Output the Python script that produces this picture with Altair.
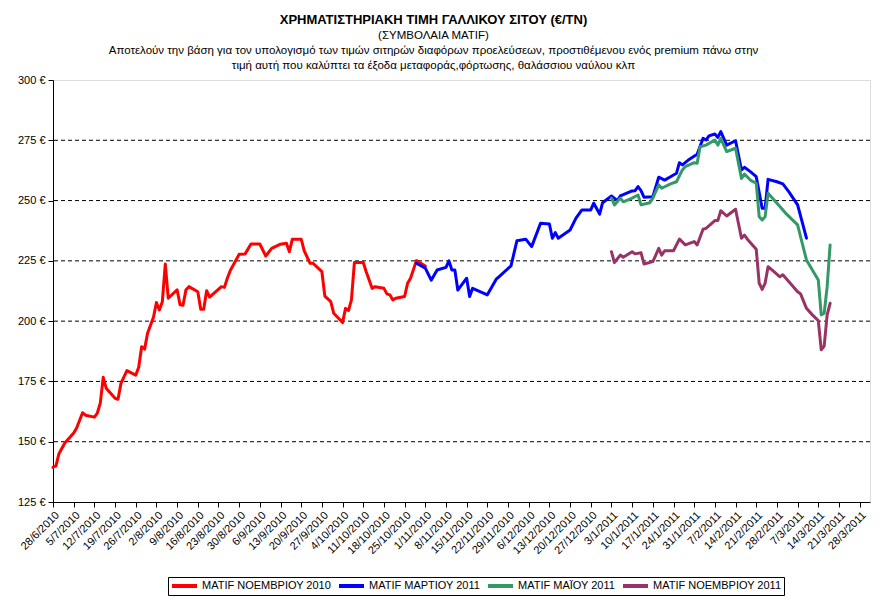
import altair as alt
import pandas as pd

FONT = "Liberation Sans"

series_names = ["MATIF ΝΟΕΜΒΡΙΟΥ 2010", "MATIF ΜΑΡΤΙΟΥ 2011", "MATIF ΜΑΪΟΥ 2011", "MATIF ΝΟΕΜΒΡΙΟΥ 2011"]
series_colors = ["#FF0000", "#0000FF", "#339966", "#993366"]

red_dates = ["2010-06-28", "2010-06-29", "2010-06-30", "2010-07-02", "2010-07-05", "2010-07-06", "2010-07-08",
             "2010-07-09", "2010-07-12", "2010-07-13", "2010-07-14", "2010-07-15", "2010-07-16", "2010-07-19",
             "2010-07-20", "2010-07-21", "2010-07-23", "2010-07-26", "2010-07-27", "2010-07-28", "2010-07-29",
             "2010-07-30", "2010-08-01", "2010-08-02", "2010-08-03", "2010-08-04", "2010-08-05", "2010-08-06",
             "2010-08-09", "2010-08-10", "2010-08-11", "2010-08-12", "2010-08-13", "2010-08-16", "2010-08-17",
             "2010-08-18", "2010-08-19", "2010-08-20", "2010-08-24", "2010-08-25", "2010-08-26", "2010-08-27",
             "2010-08-30", "2010-09-01", "2010-09-03", "2010-09-06", "2010-09-08", "2010-09-10", "2010-09-13",
             "2010-09-15", "2010-09-16", "2010-09-17", "2010-09-20", "2010-09-21", "2010-09-23", "2010-09-24",
             "2010-09-27", "2010-09-28", "2010-09-30", "2010-10-01", "2010-10-04", "2010-10-05", "2010-10-06",
             "2010-10-07", "2010-10-08", "2010-10-11", "2010-10-12", "2010-10-14", "2010-10-15", "2010-10-18",
             "2010-10-19", "2010-10-20", "2010-10-21", "2010-10-22", "2010-10-25", "2010-10-26", "2010-10-27",
             "2010-10-29", "2010-11-01"]
red_values = [139.4, 140, 145, 149.5, 153.6, 155.7, 162,
              161, 160.2, 161.9, 166, 176.7, 172.2, 168,
              167.6, 174.2, 179.5, 177.6, 180.9, 189.4, 188.4,
              195, 201.6, 207.7, 204.6, 208, 223.7, 209.5,
              213, 206.8, 206.6, 213, 214.3, 212.2, 204.9,
              204.9, 212.6, 210, 214.3, 214, 217.8, 221,
              227.7, 227.8, 232, 232, 227, 230.2, 231.9,
              232.3, 228.8, 234, 234, 229.2, 224, 224,
              220.5, 210.4, 208.1, 203.3, 199.4, 205.3, 204.4,
              208.8, 224.3, 224.3, 220.5, 213.6, 214.3, 213.6,
              211.3, 210.9, 208.8, 209.5, 210.2, 215.7, 217.8,
              225.1, 222.9]

blue_dates = ["2010-10-29", "2010-11-01", "2010-11-03", "2010-11-05", "2010-11-08", "2010-11-09", "2010-11-10",
              "2010-11-11", "2010-11-12", "2010-11-15", "2010-11-16", "2010-11-17", "2010-11-22", "2010-11-25",
              "2010-11-26", "2010-11-30", "2010-12-02", "2010-12-05", "2010-12-07", "2010-12-10", "2010-12-13",
              "2010-12-14", "2010-12-15", "2010-12-16", "2010-12-20", "2010-12-22", "2010-12-24", "2010-12-27",
              "2010-12-28", "2010-12-30", "2010-12-31", "2011-01-03", "2011-01-05", "2011-01-06", "2011-01-10",
              "2011-01-11", "2011-01-12", "2011-01-13", "2011-01-14", "2011-01-17", "2011-01-19", "2011-01-21",
              "2011-01-23", "2011-01-25", "2011-01-26", "2011-01-27", "2011-01-29", "2011-02-01", "2011-02-03",
              "2011-02-04", "2011-02-05", "2011-02-07", "2011-02-08", "2011-02-09", "2011-02-11", "2011-02-14",
              "2011-02-16", "2011-02-17", "2011-02-19", "2011-02-21", "2011-02-23", "2011-02-24", "2011-02-25",
              "2011-02-28", "2011-03-02", "2011-03-04", "2011-03-07", "2011-03-10"]
blue_values = [224, 222, 217, 221.2, 222.3, 225, 221.2,
               221.2, 212.9, 217.8, 210.2, 213.6, 210.9, 217.4,
               218.5, 222.9, 233.3, 234, 230.9, 240.6, 240.3,
               234.4, 236.7, 234.4, 237.8, 242.7, 246.1, 246.1,
               248.9, 244.4, 249.1, 251.9, 250, 251.9, 254,
               254.1, 255.8, 254.1, 251.4, 251.6, 259.7, 258.5,
               259.9, 261.3, 265.7, 264.8, 266.8, 269.2, 275.8,
               275.1, 276.8, 277.6, 276.2, 278.6, 273, 274.8,
               262.7, 263.8, 262, 259.9, 246.8, 246.8, 258.8,
               257.8, 256.9, 253.7, 248.2, 234.4]

green_dates = ["2011-01-03", "2011-01-04", "2011-01-06", "2011-01-07", "2011-01-10", "2011-01-12", "2011-01-13",
               "2011-01-16", "2011-01-17", "2011-01-19", "2011-01-20", "2011-01-23", "2011-01-25", "2011-01-27",
               "2011-01-28", "2011-01-31", "2011-02-01", "2011-02-02", "2011-02-04", "2011-02-07", "2011-02-08",
               "2011-02-09", "2011-02-11", "2011-02-14", "2011-02-16", "2011-02-17", "2011-02-19", "2011-02-21",
               "2011-02-22", "2011-02-23", "2011-02-24", "2011-02-25", "2011-03-01", "2011-03-03", "2011-03-07",
               "2011-03-08", "2011-03-10", "2011-03-14", "2011-03-15", "2011-03-16", "2011-03-17", "2011-03-18"]
green_values = [251, 248.2, 251, 249.5, 251, 252.3, 248.2,
                249.1, 251, 256.5, 255.1, 256.9, 257.8, 262.7,
                264.1, 265.7, 265.5, 272.3, 273, 275.1, 273,
                275.8, 270.3, 271.7, 259.2, 261, 258.5, 257.2,
                243.3, 242, 243.3, 253, 247.5, 244.7, 239.9,
                235, 225.4, 217.1, 202.6, 203.3, 214.3, 231.6]

purple_dates = ["2011-01-03", "2011-01-04", "2011-01-06", "2011-01-07", "2011-01-10", "2011-01-11", "2011-01-13",
                "2011-01-14", "2011-01-17", "2011-01-18", "2011-01-19", "2011-01-20", "2011-01-21", "2011-01-24",
                "2011-01-26", "2011-01-28", "2011-01-31", "2011-02-01", "2011-02-03", "2011-02-04", "2011-02-07",
                "2011-02-08", "2011-02-09", "2011-02-11", "2011-02-14", "2011-02-16", "2011-02-17", "2011-02-18",
                "2011-02-21", "2011-02-22", "2011-02-23", "2011-02-24", "2011-02-25", "2011-02-27", "2011-03-01",
                "2011-03-02", "2011-03-04", "2011-03-07", "2011-03-08", "2011-03-10", "2011-03-12", "2011-03-14",
                "2011-03-15", "2011-03-16", "2011-03-17", "2011-03-18"]
purple_values = [228.8, 224.3, 227.4, 226.5, 228.8, 227.9, 228.4,
                 223.7, 224.7, 227.4, 230.2, 227.4, 229.2, 229.2,
                 234, 231.6, 233, 231.6, 238.1, 238.5, 241.7,
                 241.7, 245.8, 243.6, 246.4, 234.4, 235.7, 234,
                 229.8, 215.7, 213.2, 215.7, 222.6, 220.5, 218.4,
                 219.2, 216.4, 212.2, 211.3, 205.3, 202.6, 200.2,
                 188.1, 189.7, 202.6, 207.4]

y_ticks = [125, 150, 175, 200, 225, 250, 275, 300]
grid_values = [150, 175, 200, 225, 250, 275]
tick_dates = [d.strftime("%Y-%m-%d") for d in pd.date_range("2010-06-28", "2011-03-28", freq="7D")]

title_line = "ΧΡΗΜΑΤΙΣΤΗΡΙΑΚΗ ΤΙΜΗ ΓΑΛΛΙΚΟΥ ΣΙΤΟΥ (€/ΤΝ)"
subtitle_lines = ["(ΣΥΜΒΟΛΑΙΑ MATIF)",
                  "Αποτελούν την βάση για τον υπολογισμό των τιμών σιτηρών διαφόρων προελεύσεων, προστιθέμενου ενός premium πάνω στην",
                  "τιμή αυτή που καλύπτει τα έξοδα μεταφοράς,φόρτωσης, θαλάσσιου ναύλου κλπ"]

frames = []
for name, ds, vs in [(series_names[0], red_dates, red_values), (series_names[1], blue_dates, blue_values),
                     (series_names[2], green_dates, green_values), (series_names[3], purple_dates, purple_values)]:
    frames.append(pd.DataFrame({"date": ds, "price": vs, "series": name}))
df = pd.concat(frames, ignore_index=True)
df["order"] = df["series"].map({n: i for i, n in enumerate(series_names)})


def dt(s):
    y, m, d = (int(p) for p in s.split("-"))
    return alt.DateTime(year=y, month=m, date=d, utc=True)


x_scale = alt.Scale(type="utc", domain=[dt("2010-06-28"), alt.DateTime(year=2011, month=3, date=31, hours=12, utc=True)])
y_scale = alt.Scale(domain=[125, 300], nice=False, zero=False)

grid = alt.Chart(pd.DataFrame({"g": grid_values})).mark_rule(
    color="black", strokeDash=[4, 3], strokeWidth=1
).encode(y=alt.Y("g:Q", scale=y_scale, title=None))

lines = alt.Chart(df).mark_line(strokeWidth=3, strokeJoin="round", strokeCap="round").encode(
    x=alt.X("date:T", scale=x_scale, title=None,
            axis=alt.Axis(values=[dt(s) for s in tick_dates],
                          labelExpr="utcFormat(datum.value, '%-d/%-m/%Y')",
                          labelAngle=-45, labelFontSize=11, labelColor="black", labelFont=FONT,
                          tickSize=5, tickColor="black", domainColor="black", grid=False, labelPadding=2,
                          labelOverlap=False)),
    y=alt.Y("price:Q", scale=y_scale, title=None,
            axis=alt.Axis(values=y_ticks, labelExpr="datum.value + ' €'", labelFontSize=11, labelColor="black",
                          labelFont=FONT, tickSize=5, tickColor="black", domainColor="black", grid=False,
                          labelPadding=3)),
    color=alt.Color("series:N", scale=alt.Scale(domain=series_names, range=series_colors),
                    legend=alt.Legend(title=None, orient="none", legendX=115, legendY=497, direction="horizontal",
                                      strokeColor="black", fillColor="white", padding=2, symbolType="stroke",
                                      symbolStrokeWidth=4, symbolSize=625, labelFontSize=11, labelFont=FONT,
                                      labelColor="black", columnPadding=5, symbolOffset=0, labelOffset=3,
                                      labelLimit=0, clipHeight=14, gridAlign="none")),
    order=alt.Order("order:Q"),
)

chart = alt.layer(grid, lines).properties(
    width=817, height=422,
    padding={"left": 45, "top": 72, "right": 13, "bottom": 94},
    autosize=alt.AutoSizeParams(type="none"),
    title=alt.TitleParams(text=title_line, subtitle=subtitle_lines, font=FONT, fontSize=13, fontWeight="bold",
                          color="black", subtitleFont=FONT, subtitleFontSize=11.5, subtitleColor="black",
                          subtitleLineHeight=15, subtitlePadding=3, anchor="middle", dx=-28, offset=3),
).configure_view(fill="#FFFFCC", stroke="#808080", strokeWidth=1.5).configure(font=FONT)

chart.save("out.html", embed_options={"renderer": "svg", "actions": False})
